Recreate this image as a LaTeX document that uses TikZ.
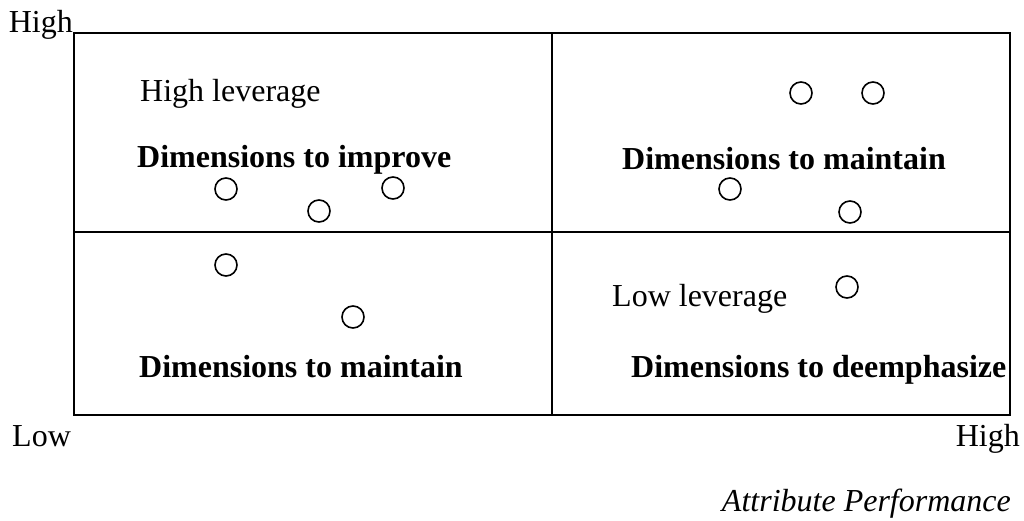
\documentclass[tikz,border=0pt]{standalone}
\usepackage{fontspec}
\setmainfont{Liberation Serif}
\usepackage{tikz}

\begin{document}
\begin{tikzpicture}[
    x=1pt, y=-1pt,
    font=\fontsize{32}{38}\selectfont,
    frame/.style={draw, line width=2pt},
    lbl/.style={inner sep=0pt},
    quad/.style={lbl, font=\fontsize{32}{38}\selectfont\bfseries},
    dot/.style={draw, circle, line width=1.6pt, minimum size=22pt, inner sep=0pt},
  ]
  \useasboundingbox (0,0) rectangle (1024,521);

  % Grid
  \coordinate (tl) at (74,33);
  \coordinate (br) at (1010,415);
  \draw[frame] (tl) rectangle (br);
  \draw[frame] (552,33) -- (552,415);
  \draw[frame] (74,232) -- (1010,232);

  % Axis labels
  \node[lbl, anchor=base east] (yhigh) at (73,33) {High};
  \node[lbl, anchor=base west] (xlow) at (12,446) {Low};
  \node[lbl, anchor=base east] (xhigh) at (1020,446) {High};
  \node[lbl, anchor=base east, font=\fontsize{32}{38}\selectfont\itshape] (xaxis) at (1011,511) {Attribute Performance};

  % Quadrant labels
  \node[lbl, anchor=base west] (hilev) at (140,102) {High leverage};
  \node[quad, anchor=base west] (improve) at (137,168) {Dimensions to improve};
  \node[quad, anchor=base west] (maintain1) at (622,170) {Dimensions to maintain};
  \node[quad, anchor=base west] (maintain2) at (139,377) {Dimensions to maintain};
  \node[lbl, anchor=base west] (lowlev) at (612,306) {Low leverage};
  \node[quad, anchor=base west] (deemph) at (631,377) {Dimensions to deemphasize};

  % Attributes
  \node[dot] (d1) at (226,189) {};
  \node[dot] (d2) at (319,211) {};
  \node[dot] (d3) at (393,188) {};
  \node[dot] (d4) at (801,93) {};
  \node[dot] (d5) at (873,93) {};
  \node[dot] (d6) at (730,189) {};
  \node[dot] (d7) at (850,212) {};
  \node[dot] (d8) at (226,265) {};
  \node[dot] (d9) at (353,317) {};
  \node[dot] (d10) at (847,287) {};
\end{tikzpicture}
\end{document}
